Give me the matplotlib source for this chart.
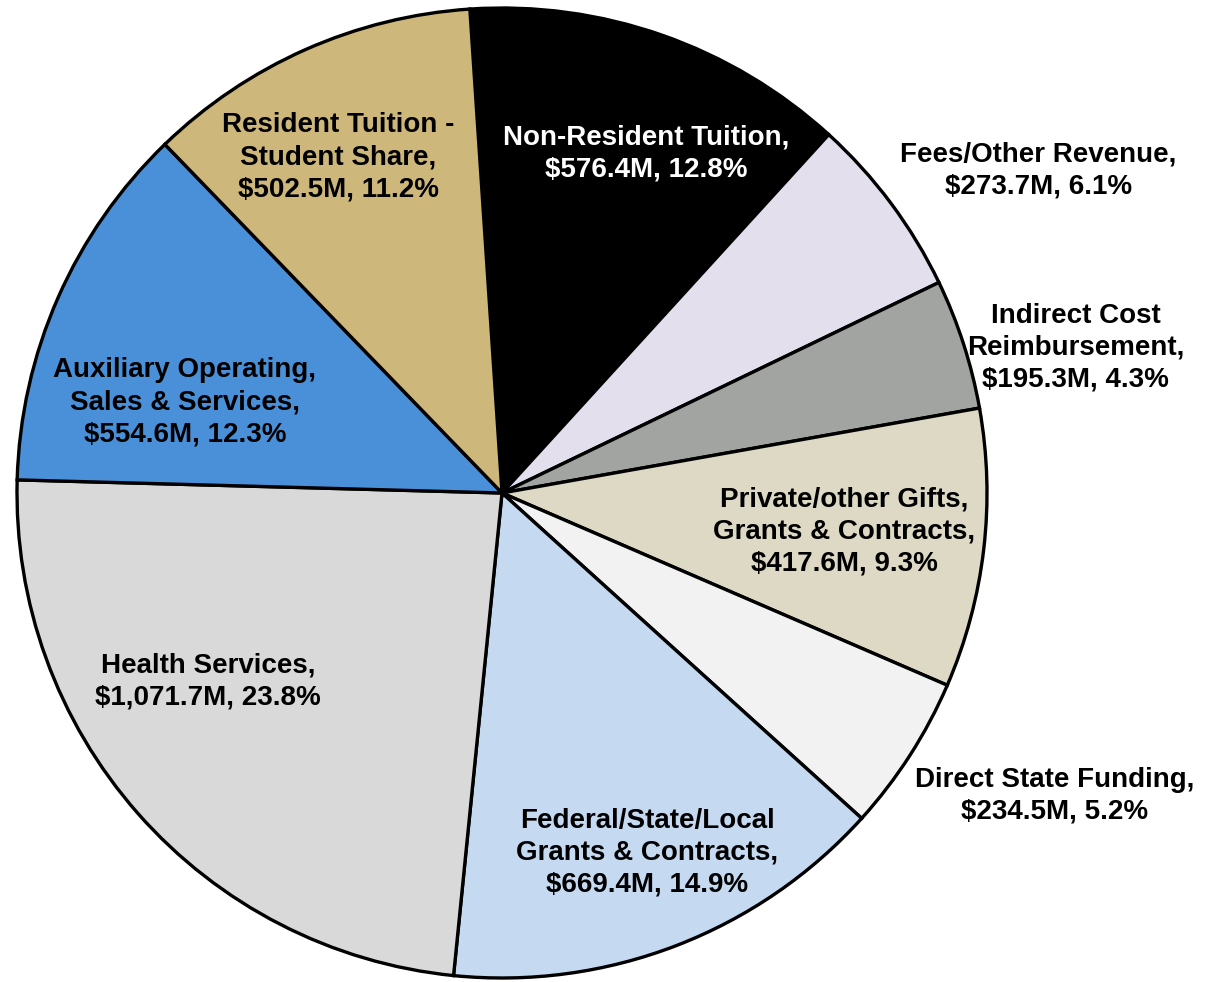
import matplotlib
matplotlib.use("Agg")
import matplotlib.pyplot as plt
import numpy as np

categories = [
    "Non-Resident Tuition",
    "Fees/Other Revenue",
    "Indirect Cost\nReimbursement",
    "Private/other Gifts,\nGrants & Contracts",
    "Direct State Funding",
    "Federal/State/Local\nGrants & Contracts",
    "Health Services",
    "Auxiliary Operating,\nSales & Services",
    "Resident Tuition -\nStudent Share",
]
values_musd = [576.4, 273.7, 195.3, 417.6, 234.5, 669.4, 1071.7, 554.6, 502.5]
percents = [12.8, 6.1, 4.3, 9.3, 5.2, 14.9, 23.8, 12.3, 11.2]

colors = ["#000000", "#E4DFEC", "#A2A4A2", "#DDD9C4", "#F2F2F2",
          "#C5D9F1", "#D9D9D9", "#4A90D9", "#CDB77A"]
text_colors = ["white"] + ["black"] * 8
# label placement (radius as fraction of pie radius, angle in degrees)
label_layout = [(0.76, 67.0), (1.29, 31.0), (1.22, 14.2), (0.71, -6.5),
                (1.30, -28.7), (0.80, -68.0), (0.72, 212.7), (0.68, 164.0),
                (0.77, 116.0)]

W, H = 1205, 982
cx, cy, R = 502, 489, 485

fig = plt.figure(figsize=(W / 100, H / 100), dpi=100)
ax = fig.add_axes([0, 0, 1, 1])
wedges, _ = ax.pie(values_musd, colors=colors, startangle=93.8, counterclock=False,
                   radius=1.0,
                   wedgeprops=dict(edgecolor="black", linewidth=2.4))
ax.set_xlim(-cx / R, (W - cx) / R)
ax.set_ylim(-cy / R, (H - cy) / R)
ax.set_aspect("auto")
ax.axis("off")

for cat, v, p, tc, (r, a) in zip(categories, values_musd, percents, text_colors, label_layout):
    label = f"{cat},\n${v:,.1f}M, {p:.1f}%"
    t = np.deg2rad(a)
    ax.text(r * np.cos(t), r * np.sin(t), label, ha="center", va="center",
            color=tc, fontsize=20, fontweight="bold", family="Liberation Sans",
            linespacing=1.3)

fig.savefig("out.png", dpi=100)
